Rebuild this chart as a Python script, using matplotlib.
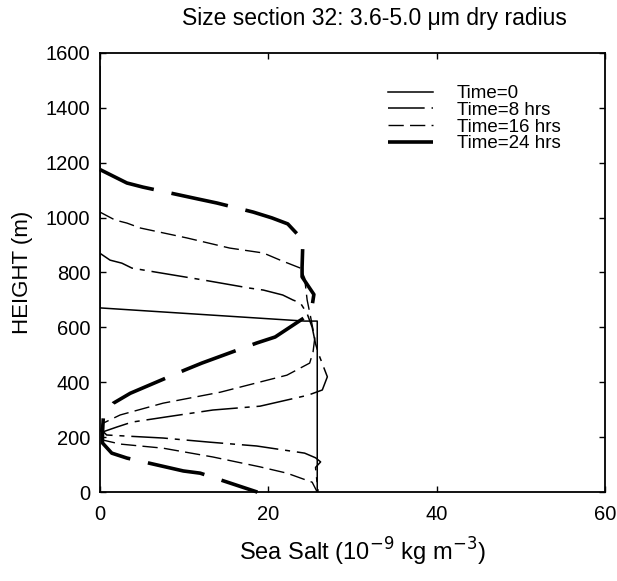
import matplotlib
matplotlib.use('Agg')
import matplotlib.pyplot as plt

plt.rcParams['font.family'] = ['Liberation Sans', 'DejaVu Sans']

# profiles: sea salt (1e-9 kg m-3) against height (m)
t0_x = [25.8, 25.8, 24.3, 0, 0]
t0_y = [0, 623, 623, 671, 1550]

t8_x = [0, 1.2, 2.6, 3.8, 6.5, 12.2, 17.8, 19.4, 21.7, 22.9, 23.8, 24.6,
        25.2, 25.6, 26.0, 27.0, 26.4, 24.7, 19.0, 13.4, 7.9, 3.8, 2.0, 0.4,
        0.8, 3.2, 7.5, 13.0, 18.6, 24.3, 25.6, 26.2, 25.6, 25.9]
t8_y = [870, 845, 834, 816, 802, 773, 743, 736, 718, 700, 689, 650,
        600, 540, 500, 420, 372, 353, 313, 299, 274, 255, 237, 220,
        208, 204, 197, 182, 168, 142, 125, 110, 90, 0]

t16_x = [0, 1.8, 3.2, 4.8, 10.3, 15.4, 19.4, 21.4, 23.8, 24.3, 24.6, 25.0,
         25.5, 25.3, 24.9, 22.2, 19.0, 14.3, 7.5, 2.4, 0.3, 0, 0.3, 2.4,
         7.5, 13.4, 19.0, 22.2, 25.2, 25.8]
t16_y = [1020, 991, 980, 962, 926, 889, 871, 845, 816, 780, 700, 640,
         560, 510, 470, 426, 401, 364, 324, 281, 250, 215, 190, 175,
         160, 128, 92, 69, 36, 0]

t24_x = [0, 3.2, 5.1, 11.6, 13.9, 18.2, 20.4, 22.3, 24.1, 24.0, 24.0, 25.4,
         25.2, 24.5, 20.8, 18.6, 12.1, 10.1, 3.6, 1.6, 0.4, 0.3, 0.3, 1.4,
         3.2, 9.9, 11.9, 18.7]
t24_y = [1175, 1126, 1111, 1068, 1053, 1020, 999, 977, 918, 820, 784, 720,
         680, 640, 565, 543, 470, 445, 360, 324, 273, 215, 179, 142,
         124, 77, 69, 0]

x_ticks = [0, 20, 40, 60]
y_ticks = [0, 200, 400, 600, 800, 1000, 1200, 1400, 1600]

fig = plt.figure(figsize=(6.17, 5.81), dpi=100)
ax = fig.add_axes([0.162, 0.153, 0.819, 0.756])

# the four time curves
ax.plot(t0_x, t0_y, color='black', lw=1.1, label='Time=0')
ax.plot(t8_x, t8_y, color='black', lw=1.1, dashes=(24, 4.5, 3.3, 4.5),
        label='Time=8 hrs')
ax.plot(t16_x, t16_y, color='black', lw=1.0, dashes=(11, 4.5),
        label='Time=16 hrs')
ax.plot(t24_x, t24_y, color='black', lw=2.6, dashes=(16, 5),
        label='Time=24 hrs', clip_on=False)

ax.set_xlim(0, 60)
ax.set_ylim(0, 1600)
ax.set_xticks(x_ticks)
ax.set_yticks(y_ticks)
ax.tick_params(direction='in', length=4, width=1, top=True, right=True,
               labelsize=14.5)
ax.tick_params(axis='x', pad=9)
ax.tick_params(axis='y', pad=7)
for s in ax.spines.values():
    s.set_linewidth(1.3)

ax.set_xlabel('Sea Salt (10$^{-9}$ kg m$^{-3}$)', fontsize=17)
ax.xaxis.set_label_coords(0.52, -0.1)
ax.set_ylabel('HEIGHT (m)', fontsize=16)
ax.yaxis.set_label_coords(-0.133, 0.5)
fig.text(374 / 617, 1 - 19 / 581, 'Size section 32: 3.6-5.0 \u03bcm dry radius',
         fontsize=16.5, ha='center', va='center')

ax.legend(loc='upper left', bbox_to_anchor=(388 / 617, 1 - 85 / 581),
          bbox_transform=fig.transFigure, frameon=False, borderpad=0,
          borderaxespad=0, fontsize=13.5, handlelength=2.4,
          labelspacing=-0.02, handletextpad=1.28)

plt.savefig('out.png', dpi=100)
